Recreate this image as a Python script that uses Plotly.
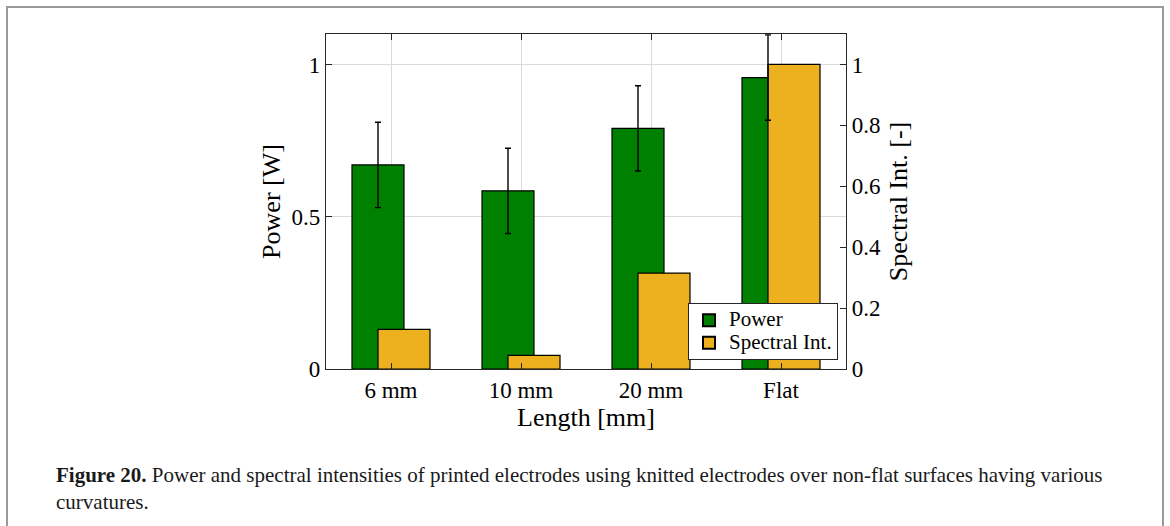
import plotly.graph_objects as go

# Measurements per electrode curvature
categories = ["6 mm", "10 mm", "20 mm", "Flat"]
power = [0.67, 0.585, 0.79, 0.957]          # W
power_err = [0.14, 0.14, 0.14, 0.14]        # W
spectral = [0.13, 0.045, 0.315, 1.0]        # normalised

left_ticks = [0, 0.5, 1]
left_ticktext = ["0", "0.5", "1"]
right_ticks = [0, 0.2, 0.4, 0.6, 0.8, 1]
right_ticktext = ["0", "0.2", "0.4", "0.6", "0.8", "1"]

GREEN = "#008000"
YELLOW = "#EDB120"
AXIS = "#262626"
GRID = "#dadada"
FONT = "Liberation Serif"
TICK_SIZE = 23
TITLE_SIZE = 26
LEGEND_TEXT = 21

W, H = 1170, 526
L, R, T, B = 326, 324, 34, 157
PW, PH = W - L - R, H - T - B

pos = list(range(1, len(categories) + 1))
BAR_W = 0.4


def px_x(px):
    return (px - L) / PW


def px_y(py):
    return (H - B - py) / PH


def legend_label(s):
    # larger glyphs inside compact legend rows
    return f'<span style="font-size:{LEGEND_TEXT}px">{s}</span>'


fig = go.Figure()

fig.add_trace(go.Bar(
    x=pos, y=power, name=legend_label("Power"), yaxis="y",
    width=BAR_W, offset=-0.3,
    marker=dict(color=GREEN, line=dict(color="black", width=1.2)),
))
fig.add_trace(go.Bar(
    x=pos, y=spectral, name=legend_label("Spectral Int."), yaxis="y2",
    width=BAR_W, offset=-0.1,
    marker=dict(color=YELLOW, line=dict(color="black", width=1.2)),
))
# error bars for power, centred on the power bars and drawn above both series
fig.add_trace(go.Scatter(
    x=[p - 0.1 for p in pos], y=power, yaxis="y2", mode="markers",
    marker=dict(size=1, color="rgba(0,0,0,0)"), showlegend=False, hoverinfo="skip",
    error_y=dict(type="data", array=power_err, color="black", thickness=1.4, width=3),
))

fig.update_layout(
    width=W, height=H,
    margin=dict(l=L, r=R, t=T, b=B, pad=0),
    paper_bgcolor="white", plot_bgcolor="white",
    barmode="overlay",
    font=dict(family=FONT, size=TICK_SIZE, color="black"),
    xaxis=dict(
        range=[0.5, 4.5], tickvals=pos, ticktext=categories,
        ticks="inside", ticklen=6, tickcolor=AXIS, tickwidth=1,
        showline=True, linecolor=AXIS, linewidth=1.3, mirror="ticks",
        showgrid=True, gridcolor=GRID, gridwidth=1, zeroline=False,
        tickfont=dict(size=TICK_SIZE),
        title=dict(text="Length [mm]", font=dict(size=TITLE_SIZE), standoff=2),
    ),
    yaxis=dict(
        range=[0, 1.1], tickvals=left_ticks, ticktext=left_ticktext,
        ticks="inside", ticklen=6, tickcolor=AXIS, tickwidth=1,
        showline=True, linecolor=AXIS, linewidth=1.3,
        showgrid=True, gridcolor=GRID, gridwidth=1, zeroline=False,
        tickfont=dict(size=TICK_SIZE),
        title=dict(text="Power [W]", font=dict(size=TITLE_SIZE), standoff=3),
    ),
    yaxis2=dict(
        range=[0, 1.1], overlaying="y", side="right",
        tickvals=right_ticks, ticktext=right_ticktext,
        ticks="inside", ticklen=6, tickcolor=AXIS, tickwidth=1,
        showline=True, linecolor=AXIS, linewidth=1.3,
        showgrid=False, zeroline=False,
        tickfont=dict(size=TICK_SIZE),
        title=dict(text="Spectral Int. [-]", font=dict(size=TITLE_SIZE), standoff=8),
    ),
    legend=dict(
        x=px_x(838), y=px_y(360), xanchor="right", yanchor="bottom",
        bgcolor="white", bordercolor=AXIS, borderwidth=1,
        font=dict(size=15), tracegroupgap=0, itemsizing="constant",
        itemwidth=30,
    ),
    showlegend=True,
)

# figure frame and caption
fig.add_shape(
    type="rect", xref="paper", yref="paper",
    x0=px_x(7), x1=px_x(1163), y0=px_y(7), y1=px_y(540),
    line=dict(color="#9a9a9a", width=2), fillcolor="rgba(0,0,0,0)", layer="below",
)
fig.add_annotation(
    xref="paper", yref="paper", x=px_x(54), y=px_y(461),
    xanchor="left", yanchor="top", align="left", showarrow=False,
    text=("<b>Figure 20.</b> Power and spectral intensities of printed electrodes using knitted "
          "electrodes over non-flat surfaces having various<br>curvatures."),
    font=dict(family=FONT, size=21, color="#1a1a1a"),
)

fig.write_html("out.html")
